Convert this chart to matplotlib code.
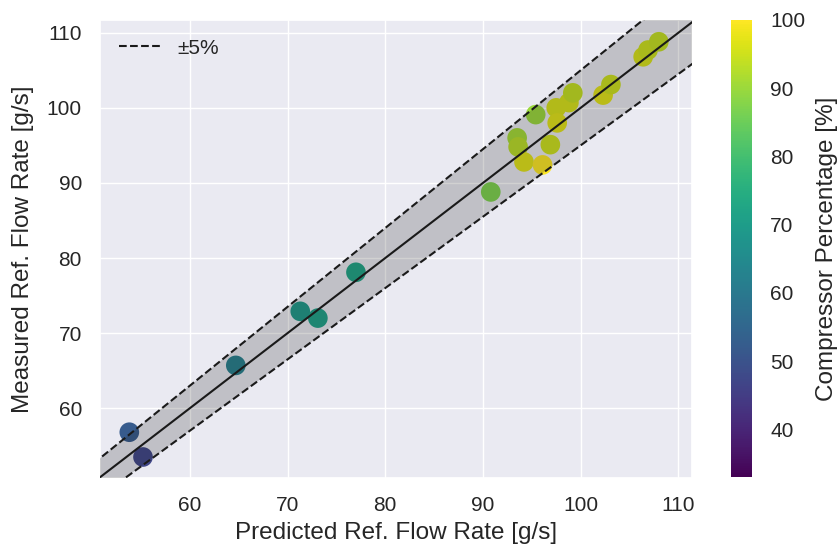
import matplotlib
matplotlib.use("Agg")
import matplotlib.pyplot as plt
import seaborn as sns
import numpy as np

sns.set_theme(style="darkgrid")
plt.rcParams['font.family'] = ['Liberation Sans', 'DejaVu Sans']

# predicted vs measured refrigerant flow rate, coloured by compressor speed
pred = [53.8, 55.2, 64.7, 71.3, 73.1, 77.0, 90.8, 93.5, 93.6, 94.2, 95.4,
        96.1, 96.9, 97.5, 97.6, 98.8, 99.2, 102.3, 103.1, 106.4, 106.9, 108.0]
meas = [56.8, 53.5, 65.7, 72.9, 72.0, 78.1, 88.8, 96.0, 94.8, 92.8, 99.1,
        92.4, 95.1, 100.0, 98.0, 100.7, 102.0, 101.7, 103.1, 106.8, 107.7, 108.8]
comp = [52, 47, 62, 69, 71, 72, 87, 91, 93, 97, 90,
        100, 95, 96, 97, 96, 94, 97, 95, 96, 95, 94]
c_min, c_max = 33, 100
lims = (50.8, 111.4)
ylims = (50.7, 111.7)

fig = plt.figure(figsize=(8.39, 5.48), dpi=100)
ax = fig.add_axes([0.1192, 0.1277, 0.7056, 0.8358])
cax = fig.add_axes([0.8713, 0.1296, 0.025, 0.834])

sc = ax.scatter(pred, meas, c=comp, cmap='viridis', vmin=c_min, vmax=c_max,
                s=200, linewidths=0, zorder=2)

xx = np.array([40, 120])
ax.fill_between(xx, 0.95 * xx, 1.05 * xx, color='k', alpha=0.2, lw=0, zorder=3)
ax.plot(xx, xx, color='k', lw=1.5, zorder=4)
ax.plot(xx, 1.05 * xx, 'k--', lw=1.5, zorder=4, label='±5%')
ax.plot(xx, 0.95 * xx, 'k--', lw=1.5, zorder=4)

ax.set_xlim(*lims)
ax.set_ylim(*ylims)
ax.set_xticks([60, 70, 80, 90, 100, 110])
ax.set_yticks([60, 70, 80, 90, 100, 110])
ax.tick_params(labelsize=15, pad=7)
ax.set_xlabel('Predicted Ref. Flow Rate [g/s]', fontsize=17.5, labelpad=5)
ax.set_ylabel('Measured Ref. Flow Rate [g/s]', fontsize=17.5, labelpad=9)
ax.legend(loc='upper left', frameon=False, fontsize=15)

cb = fig.colorbar(sc, cax=cax)
cb.outline.set_visible(False)
cb.set_ticks([40, 50, 60, 70, 80, 90, 100])
cb.ax.tick_params(labelsize=15, length=0, pad=13)
cb.set_label('Compressor Percentage [%]', fontsize=17.5, labelpad=8)

fig.savefig('out.png', dpi=100)
